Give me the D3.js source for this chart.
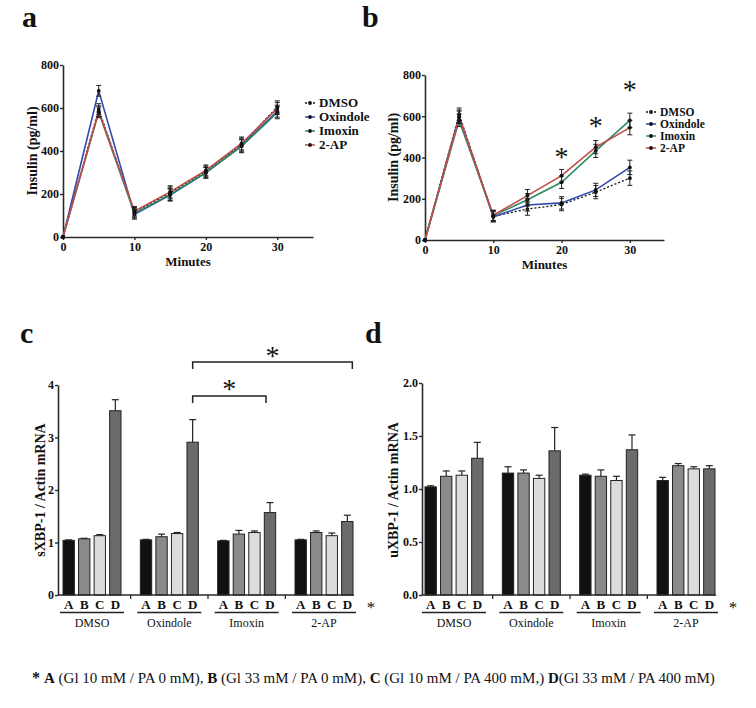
<!DOCTYPE html>
<html><head><meta charset="utf-8">
<script src="https://cdn.jsdelivr.net/npm/d3@7"></script>
<style>
body{margin:0;background:#fff}
svg{display:block}
text{font-family:"Liberation Serif","Times New Roman",Times,serif;fill:#111}
</style>
</head><body>
<svg id="chart" width="756" height="708"></svg>
<script>
// ---------- data: insulin time courses (panels a, b) ----------
const minutes = [0, 5, 10, 15, 20, 25, 30];
const xTicksLine = [0, 10, 20, 30];
const yTicksLine = [0, 200, 400, 600, 800];
const seriesNames = ["DMSO", "Oxindole", "Imoxin", "2-AP"];
const seriesColors = ["#111111", "#3048b0", "#2f8a63", "#c24a48"];
const seriesDash = ["2,2", null, null, null];

const a_DMSO     = [0, 595, 115, 205, 305, 430, 605];
const a_Oxindole = [0, 680, 105, 195, 298, 425, 585];
const a_Imoxin   = [0, 580, 110, 198, 300, 422, 578];
const a_2AP      = [0, 585, 120, 210, 310, 435, 598];
const a_err      = [0, 25, 22, 28, 25, 30, 28];

const b_DMSO     = [0, 610, 115, 150, 172, 232, 300];
const b_Oxindole = [0, 600, 112, 170, 180, 243, 352];
const b_Imoxin   = [0, 580, 118, 195, 280, 432, 580];
const b_2AP      = [0, 595, 120, 215, 312, 450, 545];
const b_err      = [0, 30, 25, 30, 30, 32, 35];
const b_starMinutes = [20, 25, 30];
const b_starLevels  = [420, 570, 745];

// ---------- data: XBP-1 bars (panels c, d) ----------
const groups = ["DMSO", "Oxindole", "Imoxin", "2-AP"];
const conditions = ["A", "B", "C", "D"];
const condColors = ["#111111", "#8a8a8a", "#dcdcdc", "#6b6b6b"];

const sXBP_A = [1.04, 1.05, 1.03, 1.05];
const sXBP_B = [1.07, 1.11, 1.16, 1.19];
const sXBP_C = [1.13, 1.17, 1.19, 1.13];
const sXBP_D = [3.51, 2.91, 1.57, 1.40];
const sXBP_errA = [0.01, 0.01, 0.01, 0.01];
const sXBP_errB = [0.01, 0.05, 0.07, 0.03];
const sXBP_errC = [0.02, 0.02, 0.03, 0.05];
const sXBP_errD = [0.21, 0.43, 0.19, 0.12];
const sXBP_ticks = [0, 1, 2, 3, 4];

const uXBP_A = [1.02, 1.15, 1.13, 1.08];
const uXBP_B = [1.12, 1.15, 1.12, 1.22];
const uXBP_C = [1.13, 1.10, 1.08, 1.19];
const uXBP_D = [1.29, 1.36, 1.37, 1.19];
const uXBP_errA = [0.01, 0.06, 0.01, 0.03];
const uXBP_errB = [0.05, 0.03, 0.06, 0.02];
const uXBP_errC = [0.04, 0.03, 0.04, 0.02];
const uXBP_errD = [0.15, 0.22, 0.14, 0.03];
const uXBP_ticks = [0, 0.5, 1.0, 1.5, 2.0];

const footParts = [
  ["A", true], [" (Gl 10 mM / PA 0 mM), ", false],
  ["B", true], [" (Gl 33 mM / PA 0 mM), ", false],
  ["C", true], [" (Gl 10 mM / PA 400 mM,) ", false],
  ["D", true], ["(Gl 33 mM / PA 400 mM)", false]
];

// ---------- drawing ----------
const svg = d3.select("#chart");
const AX = "#2a2a2a";

function styleAxis(sel, fs) {
  sel.select(".domain").attr("stroke", AX).attr("stroke-width", 1.6);
  sel.selectAll(".tick line").attr("stroke", AX).attr("stroke-width", 1.4);
  sel.selectAll(".tick text").attr("font-size", fs).attr("font-weight", "bold")
     .attr("font-family", '"Liberation Serif","Times New Roman",serif').attr("fill", "#111");
}

function panelLetter(t, x, y) {
  svg.append("text").attr("x", x).attr("y", y).attr("font-size", 30)
     .attr("font-weight", "bold").text(t);
}

function linePanel(o) {
  const x = d3.scaleLinear().domain([0, 35]).range(o.xr);
  const y = d3.scaleLinear().domain([0, 800]).range(o.yr);
  const g = svg.append("g");

  const ya = g.append("g").attr("transform", `translate(${o.xr[0]},0)`)
    .call(d3.axisLeft(y).tickValues(yTicksLine).tickSize(3).tickSizeOuter(0).tickPadding(1));
  styleAxis(ya, 12);
  const xa = g.append("g").attr("transform", `translate(0,${o.yr[0]})`)
    .call(d3.axisBottom(x).tickValues(xTicksLine).tickSize(3).tickSizeOuter(0).tickPadding(2));
  styleAxis(xa, 12);

  g.append("text").attr("x", (o.xr[0] + o.xr[1]) / 2).attr("y", o.yr[0] + 29)
   .attr("text-anchor", "middle").attr("font-size", 13).attr("font-weight", "bold").text("Minutes");
  g.append("text").attr("transform", `translate(${o.ylabX},${(o.yr[0] + o.yr[1]) / 2}) rotate(-90)`)
   .attr("text-anchor", "middle").attr("font-size", 14).attr("font-weight", "bold").text("Insulin (pg/ml)");

  const line = d3.line().x((d, i) => x(minutes[i])).y(d => y(d));
  o.series.forEach((vals, si) => {
    g.append("path").datum(vals).attr("d", line).attr("fill", "none")
     .attr("stroke", seriesColors[si]).attr("stroke-width", si === 0 ? 1.3 : 1.6)
     .attr("stroke-dasharray", seriesDash[si]);
  });
  o.series.forEach((vals, si) => {
    vals.forEach((v, i) => {
      const e = o.err[i];
      if (e > 0) {
        const cx = x(minutes[i]);
        g.append("line").attr("x1", cx).attr("x2", cx).attr("y1", y(v - e)).attr("y2", y(v + e))
         .attr("stroke", "#222").attr("stroke-width", 1);
        [v - e, v + e].forEach(w => g.append("line").attr("x1", cx - 2.5).attr("x2", cx + 2.5)
          .attr("y1", y(w)).attr("y2", y(w)).attr("stroke", "#222").attr("stroke-width", 1));
      }
      g.append("circle").attr("cx", x(minutes[i])).attr("cy", y(v)).attr("r", 1.9).attr("fill", "#111");
    });
  });

  // legend
  seriesNames.forEach((n, si) => {
    const ly = o.legY + si * o.legStep;
    g.append("line").attr("x1", o.legX - 5).attr("x2", o.legX + 5).attr("y1", ly).attr("y2", ly)
     .attr("stroke", seriesColors[si]).attr("stroke-width", 1.5).attr("stroke-dasharray", seriesDash[si]);
    g.append("circle").attr("cx", o.legX).attr("cy", ly).attr("r", 1.9).attr("fill", "#111");
    g.append("text").attr("x", o.legX + 9).attr("y", ly + o.legFont * 0.33).attr("font-size", o.legFont)
     .attr("font-weight", "bold").text(n);
  });

  if (o.stars) {
    o.stars.forEach((m, i) => {
      g.append("text").attr("x", x(m)).attr("y", y(o.starLevels[i]) + 13).attr("text-anchor", "middle")
       .attr("font-size", 28).text("*");
    });
  }
}

function barPanel(o) {
  const y = d3.scaleLinear().domain([0, o.yMax]).range([595, o.yTop]);
  const gx = d3.scaleBand().domain(groups).range(o.gRange).paddingInner(0.25).paddingOuter(0);
  const cxs = d3.scaleBand().domain(conditions).range([0, gx.bandwidth()]).paddingInner(0.27);
  const g = svg.append("g");

  groups.forEach((grp, gi) => {
    conditions.forEach((c, ci) => {
      const v = o.vals[ci][gi], e = o.errs[ci][gi];
      const bx = gx(grp) + cxs(c), bw = cxs.bandwidth(), mx = bx + bw / 2;
      g.append("line").attr("x1", mx).attr("x2", mx).attr("y1", y(v)).attr("y2", y(v + e))
       .attr("stroke", "#222").attr("stroke-width", 1.2);
      g.append("line").attr("x1", mx - 3.5).attr("x2", mx + 3.5).attr("y1", y(v + e)).attr("y2", y(v + e))
       .attr("stroke", "#222").attr("stroke-width", 1.2);
      g.append("rect").attr("x", bx).attr("y", y(v)).attr("width", bw).attr("height", y(0) - y(v))
       .attr("fill", condColors[ci]).attr("stroke", "#222").attr("stroke-width", 1);
    });
  });

  const ya = g.append("g").attr("transform", `translate(${o.axisX},0)`)
    .call(d3.axisLeft(y).tickValues(o.ticks).tickFormat(o.fmt).tickSize(3).tickSizeOuter(0).tickPadding(1));
  styleAxis(ya, 12);
  g.append("line").attr("x1", o.axisX).attr("x2", o.gRange[1] + 1).attr("y1", 595).attr("y2", 595)
   .attr("stroke", AX).attr("stroke-width", 1.6);
  groups.slice(1).forEach((grp, i) => {
    const sx = (gx(groups[i]) + gx.bandwidth() + gx(grp)) / 2;
    g.append("line").attr("x1", sx).attr("x2", sx).attr("y1", 595).attr("y2", 599)
     .attr("stroke", AX).attr("stroke-width", 1.3);
  });
  groups.forEach(grp => {
    conditions.forEach(c => {
      g.append("text").attr("x", gx(grp) + cxs(c) + cxs.bandwidth() / 2).attr("y", 609)
       .attr("text-anchor", "middle").attr("font-size", 13).attr("font-weight", "bold").text(c);
    });
    g.append("line").attr("x1", gx(grp) - 3).attr("x2", gx(grp) + gx.bandwidth() + 3)
     .attr("y1", 612.5).attr("y2", 612.5).attr("stroke", "#222").attr("stroke-width", 1.6);
    g.append("text").attr("x", gx(grp) + gx.bandwidth() / 2).attr("y", 627)
     .attr("text-anchor", "middle").attr("font-size", 12).text(grp);
  });
  g.append("text").attr("x", o.gRange[1] + 18).attr("y", 613).attr("text-anchor", "middle")
   .attr("font-size", 17).text("*");

  g.append("text").attr("transform", `translate(${o.ylabX},${490}) rotate(-90)`)
   .attr("text-anchor", "middle").attr("font-size", 14).attr("font-weight", "bold").text(o.ylab);

  return { y, gx, cxs, g };
}

// Panel a
panelLetter("a", 22, 27);
linePanel({ xr: [63, 313], yr: [237, 65], series: [a_DMSO, a_Oxindole, a_Imoxin, a_2AP], err: a_err,
  legX: 310, legY: 103, legStep: 14, legFont: 13, ylabX: 37 });

// Panel b
panelLetter("b", 362, 27);
linePanel({ xr: [425, 664], yr: [240, 75], series: [b_DMSO, b_Oxindole, b_Imoxin, b_2AP], err: b_err,
  legX: 651, legY: 112, legStep: 12, legFont: 11.5, ylabX: 398, stars: b_starMinutes, starLevels: b_starLevels });

// Panel c
panelLetter("c", 20, 343);
const pc = barPanel({ yMax: 4, yTop: 385, ticks: sXBP_ticks, fmt: d3.format("d"), axisX: 58,
  gRange: [63, 353], vals: [sXBP_A, sXBP_B, sXBP_C, sXBP_D], errs: [sXBP_errA, sXBP_errB, sXBP_errC, sXBP_errD],
  ylabX: 45, ylab: "sXBP-1 / Actin mRNA" });
function bracket(p, g1, g2, endShift, yb, sy) {
  const x1 = p.gx(g1) + p.cxs("D") + p.cxs.bandwidth() / 2;
  const x2 = p.gx(g2) + p.cxs("D") + p.cxs.bandwidth() / 2 + endShift;
  p.g.append("path").attr("d", `M${x1},${yb + 7}V${yb}H${x2}V${yb + 7}`).attr("fill", "none")
   .attr("stroke", "#222").attr("stroke-width", 1.5);
  p.g.append("text").attr("x", (x1 + x2) / 2).attr("y", sy).attr("text-anchor", "middle")
   .attr("font-size", 28).text("*");
}
bracket(pc, "Oxindole", "2-AP", 5, 362, 365);
bracket(pc, "Oxindole", "Imoxin", -4, 396, 398);

// Panel d
panelLetter("d", 365, 343);
barPanel({ yMax: 2, yTop: 383, ticks: uXBP_ticks, fmt: d3.format(".1f"), axisX: 422,
  gRange: [425, 715], vals: [uXBP_A, uXBP_B, uXBP_C, uXBP_D], errs: [uXBP_errA, uXBP_errB, uXBP_errC, uXBP_errD],
  ylabX: 398, ylab: "uXBP-1 / Actin mRNA" });

// footnote
const ft = svg.append("text").attr("x", 32).attr("y", 683).attr("font-size", 15)
  .style("white-space", "pre");
ft.append("tspan").attr("font-weight", "bold").attr("font-size", 16).text("* ");
footParts.forEach(([t, b]) => ft.append("tspan").attr("font-weight", b ? "bold" : "normal").text(t));
</script>
</body></html>
